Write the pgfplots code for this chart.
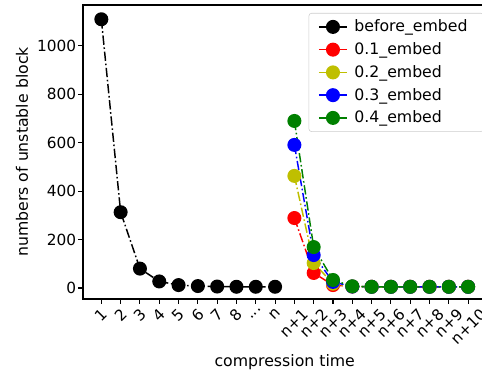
\documentclass[border=0pt]{standalone}
\usepackage{fontspec}
\setmainfont{DejaVu Sans}
\usepackage{graphicx}
\usepackage{pgfplots}
\pgfplotsset{compat=1.18}
\definecolor{myy}{rgb}{0.75,0.75,0}
\definecolor{myg}{rgb}{0,0.5,0}
\pgfplotstableread{
x y
0 1110
1 313
2 80
3 27
4 12
5 8
6 6
7 5
8 5
9 5
}\before
\pgfplotstableread{
x y
10 289
11 62
12 12
13 6
14 5
15 5
16 5
17 5
18 5
19 5
}\embA
\pgfplotstableread{
x y
10 463
11 103
12 18
13 6
14 5
15 5
16 5
17 5
18 5
19 5
}\embB
\pgfplotstableread{
x y
10 591
11 136
12 25
13 6
14 5
15 5
16 5
17 5
18 5
19 5
}\embC
\pgfplotstableread{
x y
10 690
11 169
12 33
13 7
14 5
15 5
16 5
17 5
18 5
19 5
}\embD
\newcommand{\rl}[1]{\rotatebox{45}{#1}}
\begin{document}
\begin{tikzpicture}
\begin{axis}[
  scale only axis, width=302.6pt, height=220.5pt,
  xmin=-0.95, xmax=19.95, ymin=-45.5, ymax=1169,
  axis line style={line width=0.8pt},
  tick align=outside, tick pos=left, major tick length=3.4pt,
  every tick/.style={black, line width=0.8pt},
  /pgf/number format/assume math mode=true,
  /pgf/number format/1000 sep={},
  xtick={0,...,19},
  xticklabels={\rl{1},\rl{2},\rl{3},\rl{4},\rl{5},\rl{6},\rl{7},\rl{8},\rl{...},\rl{n},\rl{n+1},\rl{n+2},\rl{n+3},\rl{n+4},\rl{n+5},\rl{n+6},\rl{n+7},\rl{n+8},\rl{n+9},\rl{n+10}},
  xticklabel style={anchor=north, font=\fontsize{11.5}{14}\selectfont, inner sep=0pt, yshift=-3pt},
  ytick={0,200,400,600,800,1000},
  yticklabel style={anchor=east, font=\fontsize{11.5}{14}\selectfont, inner sep=0pt, xshift=-1.5pt},
  xlabel={compression time},
  ylabel={numbers of unstable block},
  every axis x label/.style={at={([yshift=-47.5pt]axis description cs:0.5,0)}, anchor=center, font=\fontsize{11.8}{14}\selectfont},
  every axis y label/.style={at={([xshift=-45.75pt]axis description cs:0,0.5)}, anchor=center, rotate=90, font=\fontsize{11.8}{14}\selectfont},
  legend style={at={(1,1)}, anchor=north east, xshift=-2pt, yshift=-6pt,
    draw=black!20, rounded corners=2pt, fill=white,
    font=\fontsize{11.8}{14}\selectfont, row sep=2.6pt, inner xsep=7pt, inner ysep=3pt,
    nodes={inner xsep=5pt}},
  legend cell align=left,
  legend image code/.code={\draw[#1, solid, mark repeat=2, mark phase=2] plot coordinates {(0pt,0pt) (10.5pt,0pt) (21pt,0pt)};},
  every axis plot/.append style={line width=1.1pt, dash pattern=on 7pt off 2pt on 1.2pt off 2pt, mark=*, mark size=4.7pt},
]
\addplot[black, mark options={solid, fill=black, draw=none}] table {\before};
\addplot[red, mark options={solid, fill=red, draw=none}] table {\embA};
\addplot[myy, mark options={solid, fill=myy, draw=none}] table {\embB};
\addplot[blue, mark options={solid, fill=blue, draw=none}] table {\embC};
\addplot[myg, mark options={solid, fill=myg, draw=none}] table {\embD};
\legend{before\_embed, 0.1\_embed, 0.2\_embed, 0.3\_embed, 0.4\_embed}
\end{axis}
\pgfresetboundingbox
\path[use as bounding box] (-62.25pt,-55.5pt) rectangle (299.25pt,224.25pt);
\end{tikzpicture}
\end{document}
